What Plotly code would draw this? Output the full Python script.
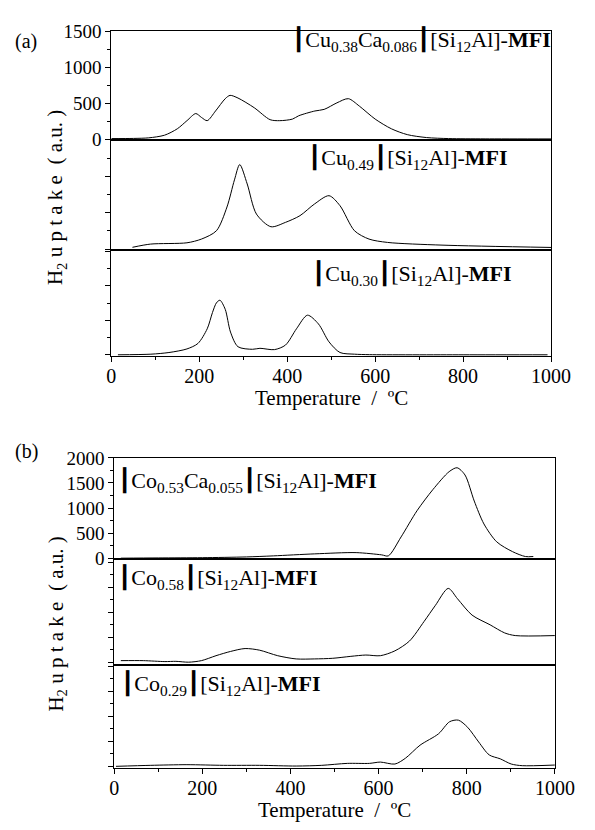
import plotly.graph_objects as go

# ---------- data (Temperature / ºC, H2 uptake a.u.) ----------
cuca_T = [0, 50, 85, 121, 150, 172, 192, 205, 218, 237, 259, 270, 288, 325, 361, 383, 412, 426, 463, 484, 513, 539, 564, 600, 637, 673, 717, 767, 850, 1000]
cuca_V = [10, 12, 20, 57, 146, 259, 358, 304, 259, 394, 565, 611, 574, 439, 273, 259, 281, 327, 394, 416, 507, 565, 462, 281, 146, 65, 24, 10, 6, 5]

cu49_T = [48, 89, 172, 205, 239, 263, 280, 292, 309, 330, 363, 396, 429, 462, 495, 520, 553, 586, 628, 752, 1000]
cu49_V = [25, 69, 87, 138, 252, 578, 950, 1160, 894, 481, 307, 367, 459, 619, 733, 596, 252, 138, 92, 55, 23]

cu30_T = [15, 90, 131, 172, 197, 218, 230, 239, 247, 259, 271, 288, 321, 338, 371, 396, 421, 446, 471, 495, 520, 553, 587, 800, 992]
cu30_V = [0, 9, 33, 85, 165, 377, 613, 754, 792, 660, 330, 117, 80, 94, 75, 141, 377, 575, 448, 188, 33, 9, 2, 0, 0]

coca_T = [15, 100, 200, 300, 361, 455, 549, 607, 622, 651, 687, 723, 760, 778, 796, 817, 839, 868, 904, 933, 951]
coca_V = [0, 5, 10, 25, 46, 86, 111, 66, 46, 424, 945, 1367, 1726, 1804, 1660, 1140, 683, 326, 130, 33, 33]

co58_T = [15, 66, 115, 140, 169, 198, 231, 264, 297, 330, 371, 413, 454, 496, 537, 571, 604, 637, 670, 703, 729, 758, 779, 812, 853, 886, 910, 1000]
co58_V = [31, 31, 12, 17, 0, 31, 130, 215, 273, 240, 130, 65, 65, 78, 117, 143, 130, 227, 423, 813, 1139, 1477, 1270, 943, 748, 586, 533, 533]

co29_T = [4, 83, 165, 248, 330, 413, 471, 529, 579, 604, 637, 661, 694, 736, 761, 781, 802, 827, 851, 876, 901, 926, 1000]
co29_V = [0, 20, 33, 20, 20, 6, 20, 59, 59, 85, 46, 163, 423, 651, 892, 924, 781, 488, 228, 150, 46, 13, 26]

x_ticks = [0, 200, 400, 600, 800, 1000]
ya_ticks = [0, 500, 1000, 1500]
yb_ticks = [0, 500, 1000, 1500, 2000]

BAR = "<span style='font-family:DejaVu Sans;font-size:22px'>┃</span>"
labels = [
    BAR + "Cu<sub>0.38</sub>Ca<sub>0.086</sub>" + BAR + "[Si<sub>12</sub>Al]-<b>MFI</b>",
    BAR + "Cu<sub>0.49</sub>" + BAR + "[Si<sub>12</sub>Al]-<b>MFI</b>",
    BAR + "Cu<sub>0.30</sub>" + BAR + "[Si<sub>12</sub>Al]-<b>MFI</b>",
    BAR + "Co<sub>0.53</sub>Ca<sub>0.055</sub>" + BAR + "[Si<sub>12</sub>Al]-<b>MFI</b>",
    BAR + "Co<sub>0.58</sub>" + BAR + "[Si<sub>12</sub>Al]-<b>MFI</b>",
    BAR + "Co<sub>0.29</sub>" + BAR + "[Si<sub>12</sub>Al]-<b>MFI</b>",
]

# ---------- layout geometry ----------
W, H = 595, 830
FONT = "Liberation Serif"

def py(px):
    return 1 - px / H

def px_x(px):
    return px / W

series = [(cuca_T, cuca_V), (cu49_T, cu49_V), (cu30_T, cu30_V),
          (coca_T, coca_V), (co58_T, co58_V), (co29_T, co29_V)]

ydom = [(22, 133), (133, 246), (246, 355), (459, 563), (563, 671), (671, 777)]
xdom_a = (111, 570)
xdom_b = (114, 574)
yranges = [[-7, 1500], [-13, 1500], [-24, 1520], [-25, 2000], [-53, 2057], [-39, 2031]]

fig = go.Figure()
layout = dict(
    width=W, height=H, margin=dict(l=0, r=0, t=0, b=0),
    paper_bgcolor="white", plot_bgcolor="white", showlegend=False,
    font=dict(family=FONT, color="black", size=18),
)

for i, (T, V) in enumerate(series):
    n = i + 1
    xa = "x" if n == 1 else f"x{n}"
    ya = "y" if n == 1 else f"y{n}"
    fig.add_trace(go.Scatter(x=T, y=V, mode="lines", xaxis=xa, yaxis=ya,
                             line=dict(color="black", width=1, shape="spline", smoothing=0.8),
                             hoverinfo="skip"))
    xd = xdom_a if i < 3 else xdom_b
    bottom = (i == 2 or i == 5)
    xkey = "xaxis" if n == 1 else f"xaxis{n}"
    ykey = "yaxis" if n == 1 else f"yaxis{n}"
    layout[xkey] = dict(
        domain=[px_x(xd[0]), px_x(xd[1])], anchor=ya, range=[0, 1000],
        showline=True, mirror=True, linecolor="black", linewidth=1,
        showgrid=False, zeroline=False,
        tickvals=x_ticks if bottom else [], ticks="outside" if bottom else "",
        ticklen=5, tickcolor="black", showticklabels=bottom,
        tickfont=dict(family=FONT, size=20), ticklabelstandoff=-3,
        minor=dict(dtick=100, ticks="outside", ticklen=3, tickcolor="black") if bottom else dict(ticks=""),
    )
    yt = ya_ticks if i < 3 else yb_ticks
    first = (i == 0 or i == 3)
    layout[ykey] = dict(
        domain=[py(ydom[i][1]), py(ydom[i][0])], anchor=xa, range=yranges[i],
        showline=True, mirror=True, linecolor="black", linewidth=1,
        showgrid=False, zeroline=False,
        tickvals=yt, ticks="outside", ticklen=5, tickcolor="black",
        showticklabels=first, tickfont=dict(family=FONT, size=19),
        minor=dict(dtick=250, ticks="outside", ticklen=3, tickcolor="black"),
    )

ann = []
lab_pos = [(298, 31), (314, 152), (318, 271), (116, 483), (116, 583), (119, 691)]
for (lx, ly), t in zip(lab_pos, labels):
    ann.append(dict(text=t, x=px_x(lx), y=py(ly), xref="paper", yref="paper",
                    xanchor="left", yanchor="middle", showarrow=False,
                    font=dict(family=FONT, size=22)))
# panel letters
ann.append(dict(text="(a)", x=px_x(22), y=py(32), xref="paper", yref="paper",
                xanchor="center", yanchor="middle", showarrow=False, font=dict(family=FONT, size=20)))
ann.append(dict(text="(b)", x=px_x(22), y=py(452), xref="paper", yref="paper",
                xanchor="center", yanchor="middle", showarrow=False, font=dict(family=FONT, size=20)))
# axis titles
for cx, cy in [((xdom_a[0] + xdom_a[1]) / 2, 398), ((xdom_b[0] + xdom_b[1]) / 2, 820)]:
    ann.append(dict(text="Temperature  /  ºC", x=px_x(cx), y=py(cy), xref="paper", yref="paper",
                    xanchor="center", yanchor="middle", showarrow=False, font=dict(family=FONT, size=21)))
ytitle = "H<sub>2</sub> u p t a k e  ( a.u. )"
for cy in [192, 629]:
    ann.append(dict(text=ytitle, x=px_x(54), y=py(cy), xref="paper", yref="paper", textangle=-90,
                    xanchor="center", yanchor="middle", showarrow=False, font=dict(family=FONT, size=21)))

layout["annotations"] = ann
fig.update_layout(**layout)
fig.write_html("out.html")
